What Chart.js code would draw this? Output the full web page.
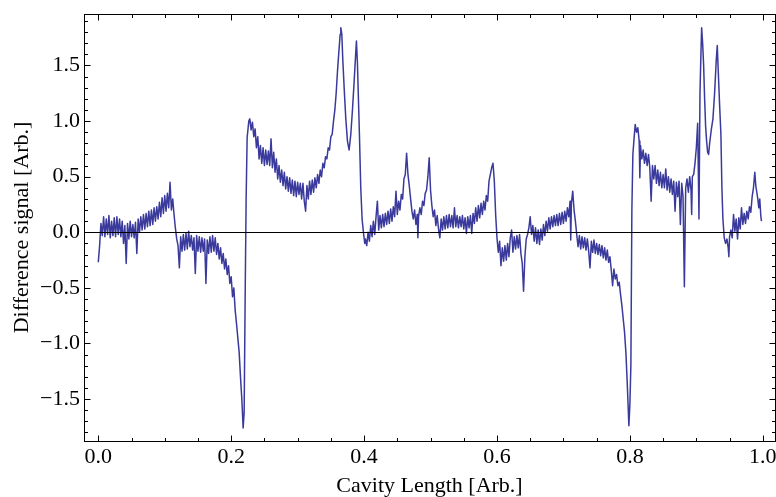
<!DOCTYPE html>
<html>
<head>
<meta charset="utf-8">
<script src="https://cdn.jsdelivr.net/npm/chart.js@4.4.1/dist/chart.umd.min.js"></script>
<style>
  html, body { margin: 0; padding: 0; background: #fff; }
  canvas { display: block; }
</style>
</head>
<body>
<canvas id="signal-graph" width="776" height="497"></canvas>
<script>
// cavity scan in pieces (x = cavity length, y = difference signal)
const xA = [0, .002, .004, .006, .008, .01, .012, .014, .016, .018, .02, .022, .024, .026, .028, .03, .032, .034, .036, .038, .04, .042, .044, .046, .048, .05, .052, .054, .056, .058, .06, .062, .064, .066, .068, .07, .072, .074, .076, .078, .08, .082, .084, .086, .088, .09, .092, .094, .096, .098, .1, .102, .104, .106, .108, .11, .112, .114, .116, .118, .12];
const yA = [-0.27, -0.12, 0.08, -0.03, 0.14, -0.04, 0.12, -0.02, 0.15, -0.05, 0.10, -0.03, 0.13, -0.04, 0.14, -0.02, 0.12, -0.04, 0.10, -0.10, 0.06, -0.28, 0.08, -0.06, 0.10, -0.04, 0.07, -0.05, 0.09, -0.19, 0.12, 0.00, 0.14, 0.02, 0.16, 0.03, 0.17, 0.05, 0.19, 0.06, 0.20, 0.07, 0.22, 0.10, 0.23, 0.12, 0.27, 0.14, 0.31, 0.17, 0.33, 0.19, 0.35, 0.22, 0.45, 0.20, 0.30, 0.16, 0.04, -0.06, -0.12];

const xB = [.122, .124, .126, .128, .13, .132, .134, .136, .138, .14, .142, .144, .146, .148, .15, .152, .154, .156, .158, .16, .162, .164, .166, .168, .17, .172, .174, .176, .178, .18, .182, .184, .186, .188, .19, .192, .194, .196, .198, .2, .202, .204, .206, .208, .21, .212, .214, .216, .218, .2195, .221, .2225, .224, .2265];
const yB = [-0.32, -0.04, -0.17, -0.02, -0.16, -0.01, -0.15, 0.01, -0.13, -0.03, -0.16, -0.05, -0.37, -0.03, -0.17, -0.04, -0.18, -0.05, -0.17, -0.06, -0.46, -0.07, -0.19, -0.04, -0.18, -0.03, -0.17, -0.05, -0.20, -0.10, -0.24, -0.14, -0.28, -0.19, -0.33, -0.24, -0.38, -0.30, -0.46, -0.40, -0.58, -0.50, -0.70, -0.82, -0.95, -1.08, -1.30, -1.50, -1.76, -1.62, -0.6, 0.30, 0.85, 1.0];

const xC = [.228, .23, .232, .234, .236, .238, .24, .242, .244, .246, .248, .25, .252, .254, .256, .258, .26, .262, .264, .266, .268, .27, .272, .274, .276, .278, .28, .282, .284, .286, .288, .29, .292, .294, .296, .298, .3, .302, .304, .306, .308, .31, .312, .314, .316, .318, .32, .322, .324, .326, .328, .33, .332, .334, .336, .338, .34, .342, .344, .346, .348, .35, .352, .354, .356, .358, .36, .362, .364, .365, .3665, .368, .37, .3725, .375, .3775, .38, .3825, .385, .3875, .3885, .39, .3915, .393, .395, .397, .399, .401];
const yC = [1.02, 0.92, 0.99, 0.86, 0.93, 0.76, 0.86, 0.66, 0.78, 0.62, 0.76, 0.60, 0.74, 0.61, 0.73, 0.60, 0.84, 0.58, 0.72, 0.54, 0.66, 0.48, 0.60, 0.45, 0.56, 0.42, 0.54, 0.39, 0.50, 0.37, 0.49, 0.35, 0.47, 0.33, 0.46, 0.32, 0.45, 0.34, 0.44, 0.30, 0.44, 0.28, 0.19, 0.42, 0.30, 0.46, 0.34, 0.47, 0.36, 0.49, 0.40, 0.52, 0.44, 0.56, 0.50, 0.62, 0.58, 0.68, 0.66, 0.76, 0.74, 0.86, 0.88, 1.00, 1.10, 1.25, 1.45, 1.62, 1.78, 1.84, 1.78, 1.55, 1.30, 1.02, 0.82, 0.74, 0.88, 1.10, 1.35, 1.62, 1.72, 1.52, 1.20, 0.88, 0.40, 0.12, 0.0, -0.10];

const xD = [.402, .404, .406, .408, .41, .412, .414, .416, .418, .42, .422, .424, .426, .428, .43, .432, .434, .436, .438, .44, .442, .444, .446, .448, .45, .452, .454, .456, .458, .46, .462, .464, .466, .468, .47, .472, .474, .476, .478, .48, .481, .482, .484, .486, .488, .49, .492, .494, .496, .498, .5, .502, .504, .506, .508, .51, .512, .514, .516, .518, .52, .522, .524, .526, .528, .53, .532, .534, .536, .538, .54, .542, .544, .546, .548, .55, .552, .554, .556, .558, .56, .562, .564, .566, .568, .57, .572, .574, .576, .578, .58, .582, .584, .586, .588, .59, .592, .594, .596, .598, .6, .602, .604, .606, .608, .61];
const yD = [-0.06, -0.12, 0.0, -0.08, 0.06, -0.04, 0.10, -0.02, 0.14, 0.28, 0.02, 0.15, 0.04, 0.16, 0.05, 0.17, 0.07, 0.19, 0.08, 0.21, 0.10, 0.23, 0.14, 0.37, 0.16, 0.28, 0.20, 0.34, 0.30, 0.48, 0.52, 0.71, 0.52, 0.42, 0.30, 0.19, 0.12, 0.20, 0.07, 0.16, -0.05, 0.14, 0.22, 0.16, 0.28, 0.24, 0.35, 0.38, 0.50, 0.67, 0.38, 0.24, 0.14, 0.20, 0.06, 0.15, 0.03, -0.05, 0.12, 0.02, 0.14, 0.03, 0.15, 0.04, 0.16, 0.05, 0.15, 0.04, 0.22, 0.05, 0.15, 0.04, 0.14, 0.05, 0.15, 0.03, 0.13, -0.01, 0.14, 0.04, 0.15, -0.01, 0.17, 0.08, 0.22, 0.10, 0.24, 0.13, 0.26, 0.16, 0.28, 0.20, 0.33, 0.28, 0.46, 0.52, 0.58, 0.62, 0.46, 0.16, -0.05, -0.18, -0.08, -0.30, -0.14, -0.26];

const xE = [.612, .614, .616, .618, .62, .622, .624, .626, .628, .63, .632, .634, .636, .638, .64, .642, .644, .646, .648, .65, .652, .654, .656, .658, .66, .662, .664, .666, .668, .67, .672, .674, .676, .678, .68, .682, .684, .686, .688, .69, .692, .694, .696, .698, .7, .702, .704, .706, .708, .71, .711, .712, .714, .716, .718, .72, .722, .724, .726, .728, .73, .732, .734, .736, .738, .74, .742, .744, .746, .748, .75, .752, .754, .756, .758, .76, .762, .764, .766, .768, .77, .772, .774, .776, .778, .78, .782, .784, .786, .788, .79, .792, .794, .796, .7985, .8, .8015, .803, .8045, .806, .808];
const yE = [-0.12, -0.25, -0.10, -0.22, -0.05, 0.02, -0.18, -0.04, -0.15, -0.03, -0.14, -0.02, -0.19, -0.28, -0.53, -0.22, -0.06, -0.02, 0.04, 0.14, -0.02, 0.06, -0.08, 0.04, -0.10, 0.02, -0.11, 0.03, -0.07, 0.07, -0.03, 0.10, 0.01, 0.13, 0.03, 0.14, 0.05, 0.15, 0.06, 0.16, 0.06, 0.17, 0.07, 0.18, 0.08, 0.19, 0.10, 0.22, 0.14, 0.28, -0.07, 0.26, 0.37, 0.20, 0.10, -0.02, -0.13, -0.03, -0.15, -0.04, -0.14, -0.05, -0.16, -0.06, -0.17, -0.32, -0.08, -0.18, -0.07, -0.19, -0.10, -0.20, -0.11, -0.21, -0.12, -0.23, -0.14, -0.25, -0.16, -0.27, -0.22, -0.34, -0.48, -0.33, -0.42, -0.38, -0.48, -0.45, -0.56, -0.66, -0.78, -0.90, -1.08, -1.35, -1.74, -1.55, -1.2, 0.2, 0.70, 0.82, 0.97];

const xF = [.81, .812, .814, .815, .816, .818, .82, .822, .824, .826, .828, .83, .832, .834, .836, .838, .84, .842, .844, .846, .848, .85, .852, .854, .856, .858, .86, .862, .864, .866, .868, .87, .872, .874, .876, .878, .88, .882, .884, .886, .888, .89, .892, .893, .894, .896, .898, .9, .902, .904, .9055, .907, .908, .9095, .911, .9125, .914, .9155, .917, .9185, .92, .9225, .925, .9275, .93, .9315, .933, .935, .937, .9385, .94, .942, .944, .946, .948, .949, .95, .952, .954, .956, .958, .96, .962, .964, .966, .968, .97, .972, .974, .976, .978, .98, .982, .984, .986, .988, .9895, .991, .9925, .994, .9955, .997, .998];
const yF = [0.90, 0.94, 0.82, 0.49, 0.78, 0.66, 0.74, 0.62, 0.71, 0.60, 0.70, 0.58, 0.28, 0.60, 0.48, 0.60, 0.44, 0.56, 0.42, 0.54, 0.40, 0.52, 0.40, 0.57, 0.38, 0.50, 0.36, 0.48, 0.34, 0.46, 0.19, 0.45, 0.32, 0.46, 0.07, 0.44, 0.32, -0.49, 0.40, 0.48, 0.36, 0.50, 0.38, 0.16, 0.50, 0.52, 0.62, 0.76, 0.98, 0.12, 1.25, 1.62, 1.84, 1.70, 1.50, 1.20, 0.95, 0.82, 0.72, 0.70, 0.80, 0.92, 1.02, 1.25, 1.55, 1.68, 1.45, 1.15, 0.88, 0.40, 0.12, -0.05, -0.10, -0.06, -0.14, -0.22, -0.04, 0.02, -0.05, 0.16, 0.01, 0.12, -0.06, 0.13, 0.03, 0.22, 0.07, 0.17, 0.08, 0.19, 0.12, 0.23, 0.18, 0.32, 0.40, 0.54, 0.42, 0.36, 0.30, 0.22, 0.30, 0.15, 0.10];

const xTicks = [0, 0.2, 0.4, 0.6, 0.8, 1.0];
const xMinorTicks = [0.05, 0.1, 0.15, 0.25, 0.3, 0.35, 0.45, 0.5, 0.55, 0.65, 0.7, 0.75, 0.85, 0.9, 0.95];
const yTicks = [-1.5, -1.0, -0.5, 0.0, 0.5, 1.0, 1.5];
const yMinorTicks = [-1.8, -1.7, -1.6, -1.4, -1.3, -1.2, -1.1, -0.9, -0.8, -0.7, -0.6, -0.4, -0.3, -0.2, -0.1,
                     0.1, 0.2, 0.3, 0.4, 0.6, 0.7, 0.8, 0.9, 1.1, 1.2, 1.3, 1.4, 1.6, 1.7, 1.8, 1.9];

const pieces = [[xA, yA], [xB, yB], [xC, yC], [xD, yD], [xE, yE], [xF, yF]];
pieces.forEach((p, i) => {
    if (p[0].length !== p[1].length) throw new Error('piece ' + i + ': ' + p[0].length + ' vs ' + p[1].length);
});
const points = [];
pieces.forEach(p => p[0].forEach((x, i) => points.push({ x: x, y: p[1][i] })));

const serif = "'Liberation Serif', 'Times New Roman', serif";
const fmt = v => (v < 0 ? '\u2212' : '') + Math.abs(v).toFixed(1);

// Mathematica style frame: box, inward ticks on all four sides, zero axis
const framePlugin = {
    id: 'frame',
    afterDatasetsDraw(chart) {
        const { ctx, chartArea: a, scales: { x, y } } = chart;
        ctx.save();
        ctx.strokeStyle = '#000';
        ctx.lineWidth = 1;
        ctx.beginPath();
        const y0 = Math.round(y.getPixelForValue(0)) + 0.5;
        ctx.moveTo(a.left, y0); ctx.lineTo(a.right, y0);

        const l = a.left + 0.5, r = a.right + 0.5, t = a.top + 0.5, b = a.bottom + 0.5;
        const xTick = (v, len) => {
            const px = Math.round(x.getPixelForValue(v)) + 0.5;
            ctx.moveTo(px, b); ctx.lineTo(px, b - len);
            ctx.moveTo(px, t); ctx.lineTo(px, t + len);
        };
        const yTick = (v, len) => {
            const py = Math.round(y.getPixelForValue(v)) + 0.5;
            ctx.moveTo(l, py); ctx.lineTo(l + len, py);
            ctx.moveTo(r, py); ctx.lineTo(r - len, py);
        };
        xTicks.forEach(v => xTick(v, 6));
        xMinorTicks.forEach(v => xTick(v, 3.5));
        yTicks.forEach(v => yTick(v, 6));
        yMinorTicks.forEach(v => yTick(v, 3.5));
        ctx.stroke();

        ctx.strokeRect(l, t, r - l, b - t);
        ctx.restore();
    }
};

new Chart("signal-graph", {
    type: 'line',
    data: {
        datasets: [{
            data: points,
            borderColor: '#3a3a9c',
            borderWidth: 1.5,
            borderJoinStyle: 'round',
            pointRadius: 0,
            tension: 0,
            fill: false
        }]
    },
    options: {
        responsive: false,
        animation: false,
        layout: { padding: { top: 14, right: 1, left: 0, bottom: 0 } },
        plugins: { legend: { display: false }, tooltip: { enabled: false } },
        scales: {
            x: {
                type: 'linear',
                min: -0.0215,
                max: 1.0184,
                grid: { display: false, drawTicks: false },
                border: { display: false },
                afterBuildTicks: s => { s.ticks = xTicks.map(v => ({ value: v })); },
                afterFit: s => { s.height = 56; s.paddingLeft = 0; s.paddingRight = 0; },
                ticks: { color: '#000', font: { family: serif, size: 22 }, padding: 3, maxRotation: 0, autoSkip: false, callback: fmt },
                title: { display: true, text: 'Cavity Length [Arb.]', color: '#000',
                         font: { family: serif, size: 22, lineHeight: 1.0 }, padding: { top: 0, bottom: 0 } }
            },
            y: {
                type: 'linear',
                min: -1.877,
                max: 1.963,
                grid: { display: false, drawTicks: false },
                border: { display: false },
                afterBuildTicks: s => { s.ticks = yTicks.map(v => ({ value: v })); },
                afterFit: s => { s.width = 84; s.paddingTop = 0; s.paddingBottom = 0; },
                ticks: { color: '#000', font: { family: serif, size: 22 }, padding: 4, autoSkip: false, callback: fmt },
                title: { display: true, text: 'Difference signal [Arb.]', color: '#000',
                         font: { family: serif, size: 22, lineHeight: 1.0 }, padding: { top: 11, bottom: 0 } }
            }
        }
    },
    plugins: [framePlugin]
});
</script>
</body>
</html>
